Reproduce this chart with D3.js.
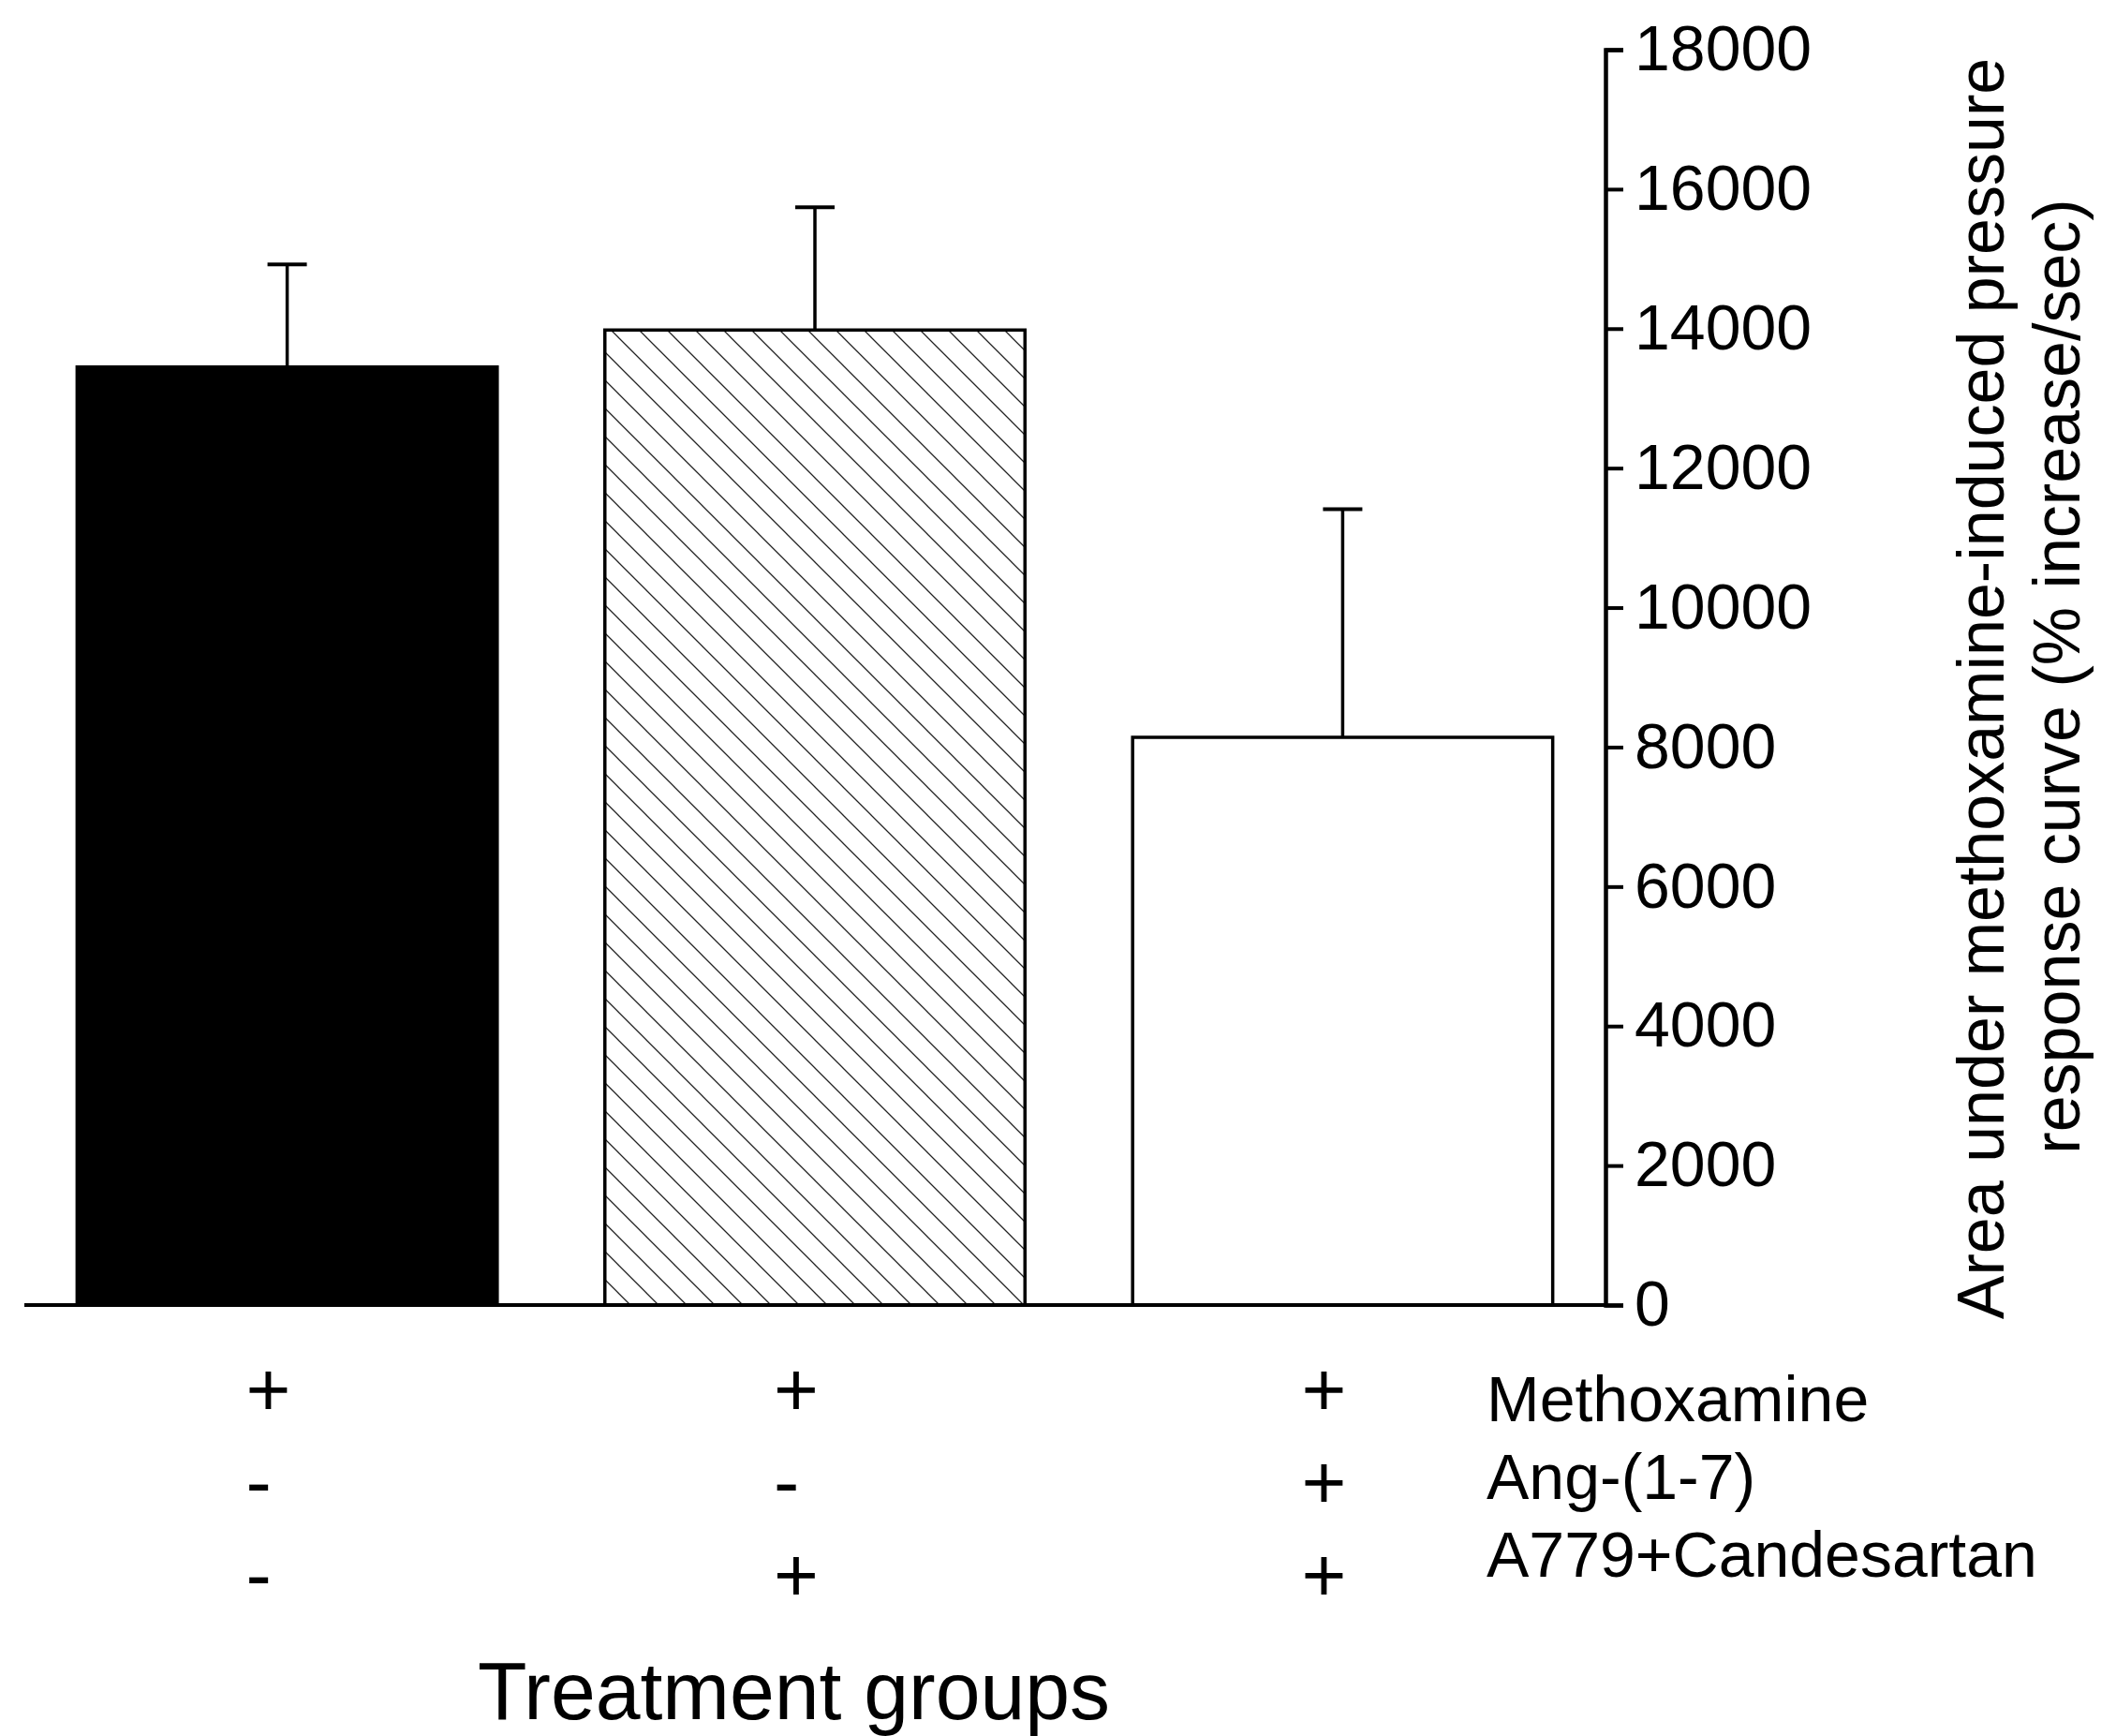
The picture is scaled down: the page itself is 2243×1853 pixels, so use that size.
<!DOCTYPE html>
<html>
<head>
<meta charset="utf-8">
<script src="https://cdn.jsdelivr.net/npm/d3@7"></script>
<style>
  body { margin: 0; background: #fff; }
  text { font-family: "Liberation Sans", Arial, sans-serif; fill: #000; }
</style>
</head>
<body>
<div class="chart"></div>
<script>
// values
const groups = ["Methoxamine", "Methoxamine + A779+Candesartan", "Methoxamine + Ang-(1-7) + A779+Candesartan"];
const means = [13450, 13980, 8140];
const sems = [1470, 1760, 3270];
const fills = ["solid", "hatch", "open"];
const treatments = ["Methoxamine", "Ang-(1-7)", "A779+Candesartan"];
// one column per group, one entry per treatment row
const signs = [
	["+", "-", "-"],
	["+", "-", "+"],
	["+", "+", "+"]
];
const yTicks = [0, 2000, 4000, 6000, 8000, 10000, 12000, 14000, 16000, 18000];
const yLabel = ["Area under methoxamine-induced pressure", "response curve (% increase/sec)"];
const xLabel = "Treatment groups";

const width = 2243,
	height = 1853;
const axisX = 1714;

const svg = d3
	.select(".chart")
	.append("svg")
	.attr("width", width)
	.attr("height", height);

// diagonal hatch for the middle bar
svg.append("defs")
	.append("pattern")
	.attr("id", "hatch")
	.attr("patternUnits", "userSpaceOnUse")
	.attr("width", 30)
	.attr("height", 30)
	.append("path")
	.attr("d", "M-15,15L15,45M0,0L30,30M15,-15L45,15")
	.attr("stroke", "#222")
	.attr("stroke-width", 1.3);

const x = d3
	.scaleBand()
	.domain(groups)
	.range([26, axisX])
	.paddingInner(0.204)
	.paddingOuter(0.1);

const y = d3.scaleLinear().domain([0, 18000]).range([1393, 53]);

const fillFor = (f) => (f === "solid" ? "#000" : f === "hatch" ? "url(#hatch)" : "#fff");

// error bars (upper only)
const err = svg.append("g").attr("stroke", "#000");
groups.forEach((g, i) => {
	const cx = x(g) + x.bandwidth() / 2;
	err.append("line")
		.attr("x1", cx)
		.attr("x2", cx)
		.attr("y1", y(means[i]))
		.attr("y2", y(means[i] + sems[i]))
		.attr("stroke-width", 3.5);
	err.append("line")
		.attr("x1", cx - 21)
		.attr("x2", cx + 21)
		.attr("y1", y(means[i] + sems[i]))
		.attr("y2", y(means[i] + sems[i]))
		.attr("stroke-width", 4);
});

svg.append("g")
	.selectAll("rect")
	.data(groups)
	.enter()
	.append("rect")
	.attr("x", (d) => x(d))
	.attr("y", (d, i) => y(means[i]))
	.attr("width", x.bandwidth())
	.attr("height", (d, i) => y(0) - y(means[i]))
	.attr("fill", (d, i) => fillFor(fills[i]))
	.attr("stroke", "#000")
	.attr("stroke-width", 3.5);

// baseline
svg.append("line")
	.attr("x1", x.range()[0])
	.attr("x2", axisX)
	.attr("y1", y(0))
	.attr("y2", y(0))
	.attr("stroke", "#000")
	.attr("stroke-width", 4);

// right hand y axis
const yAxis = svg
	.append("g")
	.attr("transform", "translate(" + axisX + ",0)")
	.call(d3.axisRight(y).tickValues(yTicks).tickFormat(d3.format("d")).tickSize(19).tickPadding(12));
yAxis.select(".domain").attr("stroke-width", 4.5);
yAxis.selectAll(".tick line").attr("stroke-width", 4);
yAxis.selectAll(".tick text")
	.style("font-family", '"Liberation Sans", Arial, sans-serif')
	.style("font-size", "68px")
	.attr("fill", "#000");

// y axis title, two rotated lines
const yTitle = [
	{ bx: 2139, cy: 735 },
	{ bx: 2220, cy: 722 }
];
yLabel.forEach((t, i) => {
	svg.append("text")
		.attr("transform", "translate(" + yTitle[i].bx + "," + yTitle[i].cy + ") rotate(-90)")
		.attr("text-anchor", "middle")
		.style("font-size", "70px")
		.text(t);
});

// +/- treatment table
const signRow = d3.scalePoint().domain(treatments).range([1511, 1709]);
const labelRow = d3.scalePoint().domain(treatments).range([1517, 1683]);

groups.forEach((g, i) => {
	treatments.forEach((t, j) => {
		svg.append("text")
			.attr("x", x(g) + x.bandwidth() / 2 - 44)
			.attr("y", signRow(t))
			.attr("text-anchor", "start")
			.style("font-size", "82px")
			.text(signs[i][j]);
	});
});

svg.append("g")
	.selectAll("text")
	.data(treatments)
	.enter()
	.append("text")
	.attr("x", 1587)
	.attr("y", (d) => labelRow(d))
	.style("font-size", "68px")
	.text((d) => d);

svg.append("text")
	.attr("x", 510)
	.attr("y", 1835)
	.attr("textLength", 675)
	.attr("lengthAdjust", "spacingAndGlyphs")
	.style("font-size", "88px")
	.text(xLabel);
</script>
</body>
</html>
